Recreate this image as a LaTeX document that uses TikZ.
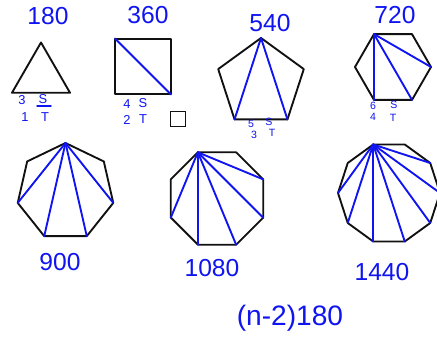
\documentclass[tikz,border=0pt]{standalone}
\usepackage{fontspec}
\setmainfont{Liberation Sans}
\usetikzlibrary{shapes.geometric}
\definecolor{InkBlue}{HTML}{0F14F0}
\definecolor{InkBlack}{HTML}{111111}

\begin{document}
\begin{tikzpicture}[x=0.03cm,y=-0.03cm,
  poly/.style={draw=InkBlack,line width=1.6pt,line join=round,
    regular polygon,inner sep=0pt,outer sep=0pt},
  diag/.style={draw=InkBlue,line width=1.6pt,line cap=round},
  sumlabel/.style={text=InkBlue,inner sep=0pt,
    font=\fontsize{21}{21}\selectfont},
  tally/.style={text=InkBlue,inner sep=0pt,
    font=\fontsize{11}{11}\selectfont}
]
\fill[white] (0,0) rectangle (437,343);
\useasboundingbox (0,0) rectangle (437,343);

% top row
\node[poly,regular polygon sides=3,minimum size=2.01cm] (tri) at (41,76) {};
\node[poly,regular polygon sides=4,minimum size=2.37cm] (sq) at (143,66.5) {};
\node[poly,regular polygon sides=5,minimum size=2.7cm] (pent) at (261,83) {};
\node[poly,regular polygon sides=6,minimum size=2.28cm] (hex) at (393,67) {};
\node[draw=InkBlack,line width=1.4pt,minimum size=0.45cm,inner sep=0pt]
  (box) at (178,119) {};

\draw[diag] (sq.corner 2) -- (sq.corner 4);
\draw[diag] (pent.corner 1) -- (pent.corner 3);
\draw[diag] (pent.corner 1) -- (pent.corner 4);
\draw[diag] (hex.corner 2) -- (hex.corner 4);
\draw[diag] (hex.corner 2) -- (hex.corner 5);
\draw[diag] (hex.corner 2) -- (hex.corner 6);

\node[sumlabel] (s180) at (48,16) {180};
\node[sumlabel] (s360) at (148,15) {360};
\node[sumlabel] (s540) at (270,23) {540};
\node[sumlabel] (s720) at (395,15) {720};

\node[tally] (tri3) at (22,100) {3};
\node[tally] (triS) at (43,99) {S};
\node[tally] (tri1) at (25,117) {1};
\node[tally] (triT) at (45,117) {T};
\draw[diag,line width=1.2pt] (37,106) -- (51,106);
\node[tally] (sq4) at (127,104) {4};
\node[tally] (sqS) at (143,103) {S};
\node[tally] (sq2) at (127,120) {2};
\node[tally] (sqT) at (143,119) {T};
\node[tally,font=\fontsize{9}{9}\selectfont] (pent5) at (251,124) {5};
\node[tally,font=\fontsize{9}{9}\selectfont] (pentS) at (269,122) {S};
\node[tally,font=\fontsize{9}{9}\selectfont] (pent3) at (254,135) {3};
\node[tally,font=\fontsize{9}{9}\selectfont] (pentT) at (272,133) {T};
\node[tally,font=\fontsize{9}{9}\selectfont] (hex6) at (373,106) {6};
\node[tally,font=\fontsize{9}{9}\selectfont] (hexS) at (394,105) {S};
\node[tally,font=\fontsize{9}{9}\selectfont] (hex4) at (373,117) {4};
\node[tally,font=\fontsize{9}{9}\selectfont] (hexT) at (393,118) {T};

% bottom row
\node[poly,regular polygon sides=7,minimum size=2.94cm] (hept) at (65.5,192) {};
\node[poly,regular polygon sides=8,minimum size=3cm] (oct) at (217,198.5) {};
\node[poly,regular polygon sides=10,minimum size=3.06cm] (dec) at (389,193) {};

\draw[diag] (hept.corner 1) -- (hept.corner 3);
\draw[diag] (hept.corner 1) -- (hept.corner 4);
\draw[diag] (hept.corner 1) -- (hept.corner 5);
\draw[diag] (hept.corner 1) -- (hept.corner 6);
\draw[diag] (oct.corner 2) -- (oct.corner 4);
\draw[diag] (oct.corner 2) -- (oct.corner 5);
\draw[diag] (oct.corner 2) -- (oct.corner 6);
\draw[diag] (oct.corner 2) -- (oct.corner 7);
\draw[diag] (oct.corner 2) -- (oct.corner 8);
\draw[diag] (dec.corner 2) -- (dec.corner 4);
\draw[diag] (dec.corner 2) -- (dec.corner 5);
\draw[diag] (dec.corner 2) -- (dec.corner 6);
\draw[diag] (dec.corner 2) -- (dec.corner 7);
\draw[diag] (dec.corner 2) -- (dec.corner 8);
\draw[diag] (dec.corner 2) -- (dec.corner 9);
\draw[diag] (dec.corner 2) -- (dec.corner 10);

\node[sumlabel] (s900) at (60,262) {900};
\node[sumlabel] (s1080) at (212,268) {1080};
\node[sumlabel] (s1440) at (382,272) {1440};
\node[sumlabel,font=\fontsize{24}{24}\selectfont] (rule) at (290,318) {(n-2)180};
\end{tikzpicture}
\end{document}
